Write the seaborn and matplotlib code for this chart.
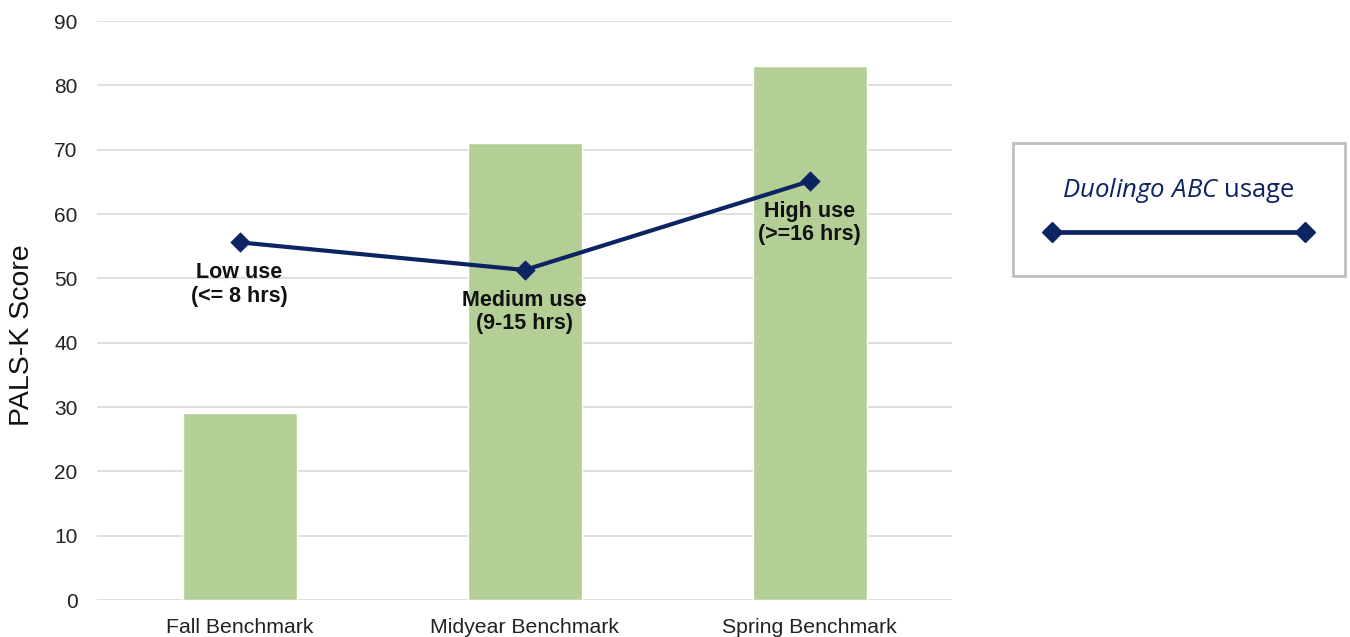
import matplotlib
matplotlib.use("Agg")
import matplotlib.pyplot as plt
from matplotlib.lines import Line2D
import seaborn as sns
import pandas as pd

# Data
benchmarks = ["Fall Benchmark", "Midyear Benchmark", "Spring Benchmark"]
pals_scores = [29, 71, 83]
usage_scores = [55.6, 51.3, 65.1]
usage_labels = ["Low use\n(<= 8 hrs)", "Medium use\n(9-15 hrs)", "High use\n(>=16 hrs)"]
y_ticks = [0, 10, 20, 30, 40, 50, 60, 70, 80, 90]

BAR_COLOR = "#b3cf96"
LINE_COLOR = "#0c2461"
GRID_COLOR = "#d9d9d9"

sns.set_theme(style="white")
plt.rcParams["font.family"] = ["Liberation Sans", "DejaVu Sans"]
plt.rcParams["mathtext.fontset"] = "custom"
plt.rcParams["mathtext.it"] = "Open Sans:italic"
plt.rcParams["mathtext.rm"] = "Open Sans"

df = pd.DataFrame({"benchmark": benchmarks, "score": pals_scores, "usage": usage_scores})

fig = plt.figure(figsize=(13.5, 6.37), dpi=100)
ax = fig.add_axes([0.0719, 0.058, 0.6333, 0.909])

sns.barplot(data=df, x="benchmark", y="score", color=BAR_COLOR, width=0.4,
            saturation=1, ax=ax, zorder=2)
sns.pointplot(data=df, x="benchmark", y="usage", color=LINE_COLOR, markers="D",
              linestyles="-", errorbar=None, ax=ax, markersize=8.5, linewidth=3)
for coll in ax.collections:
    coll.set_zorder(4)
for ln in ax.lines:
    ln.set_zorder(4)

for i, (val, lab) in enumerate(zip(usage_scores, usage_labels)):
    ax.annotate(lab, xy=(i, val), xytext=(0, -42), textcoords="offset pixels",
                ha="center", va="center", fontsize=15.5, fontweight="bold",
                color="#111111", linespacing=1.15, zorder=5)

ax.set_xlim(-0.5, 2.5)
ax.set_ylim(0, 90)
ax.set_yticks(y_ticks)
ax.yaxis.grid(True, color=GRID_COLOR, linewidth=1.2, zorder=0)
ax.set_axisbelow(True)
for s in ax.spines.values():
    s.set_visible(False)
ax.tick_params(axis="y", length=0, pad=14, labelsize=15, labelcolor="#222222")
ax.tick_params(axis="x", length=0, pad=13, labelsize=15.3, labelcolor="#222222")
ax.set_xlabel("")
ax.set_ylabel("PALS-K Score", fontsize=20.5, color="#111111")
ax.yaxis.set_label_coords(-0.0723, 0.457)

handle = Line2D([], [], color=LINE_COLOR, linewidth=3.4, marker="D", markersize=10)
leg = fig.legend(handles=[handle], labels=[""], numpoints=2,
                 title=r"$\mathit{Duolingo\ ABC}$ usage",
                 loc="center", bbox_to_anchor=(0.873, 0.6711),
                 fontsize=14, handlelength=13.63, handletextpad=0,
                 borderpad=1.72, labelspacing=0, frameon=True, fancybox=False,
                 edgecolor="#b0b0b0", borderaxespad=0)
leg.get_frame().set_linewidth(2)
title = leg.get_title()
title.set_fontfamily("Open Sans")
title.set_fontsize(18.5)
title.set_color(LINE_COLOR)
leg._legend_box.sep = 14

fig.savefig("out.png", dpi=100)
